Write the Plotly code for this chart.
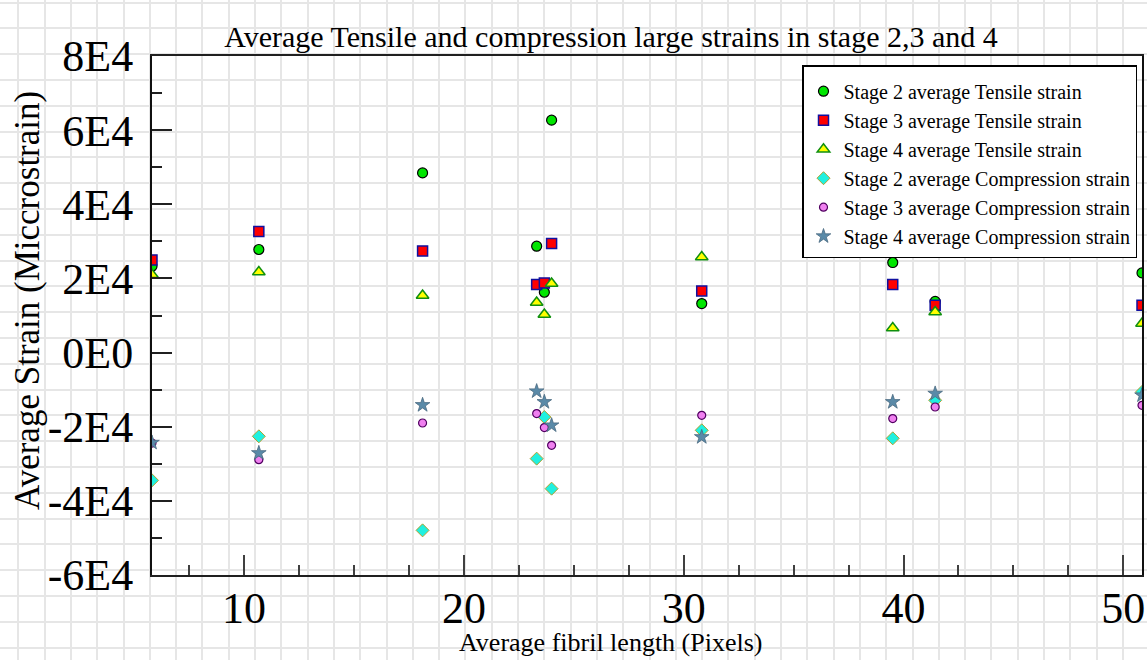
import plotly.graph_objects as go

# ---------------- data ----------------
fibril_length = [5.81, 10.67, 18.12, 23.31, 23.66, 23.99, 30.82, 39.51, 41.44, 50.85]

stage2_tensile = [23300, 27800, 48470, 28690, 16270, 62700, 13220, 24290, 13800, 21490]
stage3_tensile = [25000, 32660, 27420, 18350, 18790, 29420, 16630, 18350, 12770, 12770]
stage4_tensile = [21000, 21750, 15380, 13490, 10250, 18620, 25800, 6640, 10960, 7830]
stage2_compression = [-34470, -22590, -47960, -28610, -17380, -36710, -20970, -23130, -12870, -10630]
stage3_compression = [-24400, -28880, -19000, -16460, -20240, -25020, -16920, -17810, -14680, -14220]
stage4_compression = [-24300, -27100, -14140, -10440, -13330, -19620, -22780, -13330, -11070, -11520]

series_names = [
    "Stage 2 average Tensile strain",
    "Stage 3 average Tensile strain",
    "Stage 4 average Tensile strain",
    "Stage 2 average Compression strain",
    "Stage 3 average Compression strain",
    "Stage 4 average Compression strain",
]

y_tick_values = [-60000, -40000, -20000, 0, 20000, 40000, 60000, 80000]
y_tick_labels = ["-6E4", "-4E4", "-2E4", "0E0", "2E4", "4E4", "6E4", "8E4"]
x_tick_values = [10, 20, 30, 40, 50]

title_text = "Average Tensile and compression large strains in stage 2,3 and 4"
x_title = "Average fibril length (Pixels)"
y_title = "Average Strain (Miccrostrain)"

# ---------------- layout helpers ----------------
W, H = 1147, 660
FONT = "Liberation Serif"
px_l, px_r, px_t, px_b = 152, 1142, 56, 575

styles = [
    dict(symbol="circle", size=10, color="#00e600", line=dict(color="#000000", width=1.2)),
    dict(symbol="square", size=10, color="#ff0000", line=dict(color="#1010a0", width=1.5)),
    dict(symbol="triangle-up", size=11, color="#ffff00", line=dict(color="#109010", width=1.5)),
    dict(symbol="diamond", size=10, color="#20f0e0", line=dict(color="#b0a030", width=1)),
    dict(symbol="circle", size=8, color="#f080f0", line=dict(color="#500060", width=1.2)),
    dict(symbol="star", size=11, color="#5a8aa8", line=dict(color="#4a6a80", width=0.8)),
]
all_series = [stage2_tensile, stage3_tensile, stage4_tensile,
              stage2_compression, stage3_compression, stage4_compression]

fig = go.Figure()
# empty trace that only makes the page-wide graph-paper grid subplot exist
fig.add_trace(go.Scatter(x=[None], y=[None], mode="markers", showlegend=False,
                         hoverinfo="skip", xaxis="x", yaxis="y"))
for name, vals, st in zip(series_names, all_series, styles):
    fig.add_trace(go.Scatter(
        x=fibril_length, y=vals, mode="markers", name=name,
        marker=st, xaxis="x2", yaxis="y2",
    ))

fig.update_layout(
    width=W, height=H,
    margin=dict(l=0, r=0, t=0, b=0, pad=0, autoexpand=False),
    paper_bgcolor="white",
    plot_bgcolor="rgba(0,0,0,0)",
    font=dict(family=FONT, color="black"),
    # background graph-paper grid over the whole page
    xaxis=dict(domain=[0, 1], range=[0, W], tick0=18.3, dtick=26.3,
               showgrid=True, gridcolor="#e6e6e6", gridwidth=2,
               showticklabels=False, zeroline=False, showline=False, ticks="",
               fixedrange=True),
    yaxis=dict(domain=[0, 1], range=[H, 0], tick0=2.5, dtick=25.8,
               showgrid=True, gridcolor="#e6e6e6", gridwidth=2,
               showticklabels=False, zeroline=False, showline=False, ticks="",
               fixedrange=True),
    xaxis2=dict(
        domain=[px_l / W, px_r / W], anchor="y2",
        range=[min(fibril_length), max(fibril_length)],
        tickmode="array", tickvals=x_tick_values,
        ticks="inside", ticklen=20, tickwidth=1.5, tickcolor="#404040",
        minor=dict(tickmode="linear", tick0=0, dtick=2.5, ticks="inside",
                   ticklen=10, tickwidth=1.5, tickcolor="#404040", showgrid=False),
        showgrid=False, zeroline=False,
        showline=True, linecolor="#202020", linewidth=2, mirror=True,
        tickfont=dict(family=FONT, size=44, color="black"),
        ticklabelstandoff=-7,
    ),
    yaxis2=dict(
        domain=[1 - px_b / H, 1 - px_t / H], anchor="x2",
        range=[-60000, 80000],
        tickmode="array", tickvals=y_tick_values, ticktext=y_tick_labels,
        ticks="inside", ticklen=20, tickwidth=1.5, tickcolor="#202020",
        minor=dict(tickmode="linear", tick0=0, dtick=10000, ticks="inside",
                   ticklen=10, tickwidth=1.5, tickcolor="#202020", showgrid=False),
        showgrid=False, zeroline=False,
        showline=True, linecolor="#101010", linewidth=2, mirror=True,
        tickfont=dict(family=FONT, size=44, color="black"),
        ticklabelstandoff=8,
    ),
    title=dict(text=title_text, x=611 / W, xanchor="center",
               y=1 - 36 / H, yanchor="middle",
               font=dict(family=FONT, size=30, color="black")),
    legend=dict(
        x=1137 / W, xanchor="right", y=1 - 65 / H, yanchor="top",
        bgcolor="white", bordercolor="black", borderwidth=1.5,
        font=dict(family=FONT, size=20, color="black"),
        tracegroupgap=0, itemwidth=30,
        title=dict(text=" ", font=dict(size=4)),
    ),
    annotations=[
        dict(text=x_title, xref="paper", yref="paper",
             x=610 / W, y=1 - 642 / H, xanchor="center", yanchor="middle",
             showarrow=False, font=dict(family=FONT, size=26, color="black")),
        dict(text=y_title, xref="paper", yref="paper", textangle=-90,
             x=27 / W, y=1 - 301 / H, xanchor="center", yanchor="middle",
             showarrow=False, font=dict(family=FONT, size=35, color="black")),
    ],
)

fig.write_html("out.html")
